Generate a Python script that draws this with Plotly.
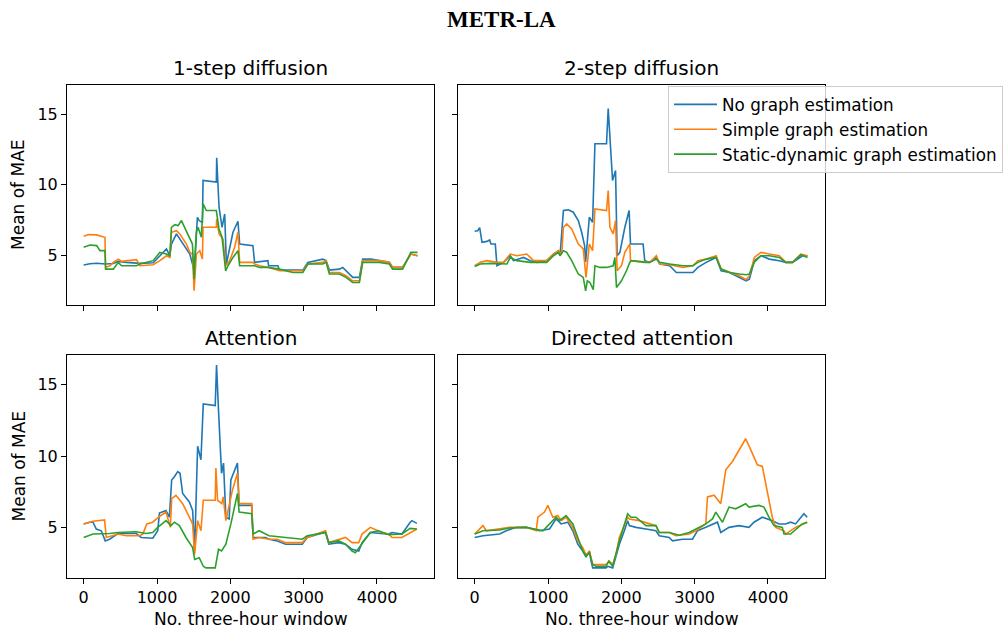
import plotly.graph_objects as go

SERIES = ["No graph estimation", "Simple graph estimation", "Static-dynamic graph estimation"]
COLORS = ["#1f77b4", "#ff7f0e", "#2ca02c"]
PANELS = ["1-step diffusion", "2-step diffusion", "Attention", "Directed attention"]
X_TICKS = [0, 1000, 2000, 3000, 4000]
Y_TICKS = [5, 10, 15]

# ---- 1-step diffusion ----
P1_NO_X = [0,86,177,300,404,472,585,766,948,1084,1129,1175,1197,1265,1333,1447,1492,1506,1551,1574,1619,1628,1809,1814,1846,1887,1923,1946,2036,2104,2127,2308,2331,2512,2522,2648,2671,2989,3057,3261,3306,3351,3487,3533,3669,3760,3805,3918,4032,4168,4213,4349,4462,4553]
P1_NO_Y = [4.29,4.38,4.42,4.36,4.40,4.55,4.48,4.41,4.45,5.19,5.43,4.95,5.78,6.50,6.00,5.07,4.20,3.88,7.68,7.45,7.30,10.30,10.18,11.91,8.40,6.97,7.92,4.36,6.62,7.40,5.78,5.67,4.48,4.60,4.24,4.24,3.93,3.93,4.48,4.71,4.60,3.93,4.00,4.12,3.41,3.41,4.71,4.71,4.60,4.48,4.12,4.12,5.07,4.95]
P1_SI_X = [0,63,177,222,290,299,358,404,472,517,721,766,948,1039,1129,1175,1197,1265,1311,1401,1447,1483,1506,1537,1583,1619,1628,1809,1814,1846,1900,1936,1991,2059,2104,2127,2308,2331,2399,2522,2671,2989,3057,3261,3306,3351,3487,3578,3669,3760,3805,4032,4168,4213,4349,4462,4553]
P1_SI_Y = [6.33,6.45,6.43,6.38,6.26,4.12,4.24,4.48,4.71,4.55,4.67,4.24,4.31,4.60,4.95,4.83,6.62,6.73,6.50,5.78,5.19,5.07,2.46,5.07,5.31,4.71,6.97,6.97,7.57,6.50,6.14,4.24,4.60,5.55,6.62,4.48,4.48,4.36,4.24,4.12,3.88,3.88,4.36,4.48,4.60,3.76,3.76,3.53,3.17,3.17,4.60,4.60,4.48,4.12,4.12,5.07,4.95]
P1_SD_X = [0,86,177,222,290,299,404,472,517,721,766,857,948,1039,1129,1175,1197,1243,1288,1333,1379,1447,1483,1506,1537,1560,1605,1628,1673,1809,1846,1887,1936,1968,2036,2104,2127,2331,2399,2512,2671,2853,2989,3057,3261,3306,3351,3487,3578,3669,3760,3805,4032,4168,4213,4349,4462,4553]
P1_SD_Y = [5.55,5.71,5.67,5.31,5.31,4.00,4.00,4.48,4.24,4.24,4.36,4.48,4.60,5.19,5.07,4.95,6.97,7.16,7.09,7.45,6.97,6.26,5.78,3.29,6.62,6.97,6.26,8.63,8.16,8.16,6.85,6.26,3.88,4.24,4.83,5.31,4.24,4.24,4.12,4.12,4.00,3.76,3.76,4.36,4.36,4.48,3.65,3.65,3.41,3.05,3.05,4.48,4.48,4.36,4.00,4.00,5.19,5.19]

# ---- 2-step diffusion ----
P2_NO_X = [0,41,68,100,168,204,222,281,304,349,394,485,530,666,757,847,983,1074,1142,1164,1210,1277,1345,1413,1459,1499,1513,1563,1608,1640,1798,1821,1853,1880,1921,1943,1980,2048,2106,2125,2297,2319,2387,2478,2523,2659,2750,2976,3044,3157,3293,3361,3475,3610,3701,3746,3814,3905,4018,4154,4245,4335,4471,4539]
P2_NO_Y = [6.69,6.73,6.95,5.90,5.97,6.07,5.78,5.78,4.24,4.36,4.48,4.95,4.60,4.83,4.60,4.48,4.60,5.07,5.31,4.95,8.16,8.21,8.04,7.45,6.62,5.67,4.50,7.68,7.33,12.91,12.91,15.40,12.43,10.30,11.01,4.95,5.19,6.97,8.16,5.78,5.78,4.60,4.48,4.83,4.36,4.24,3.76,3.76,4.12,4.48,4.83,3.88,3.76,3.41,3.17,3.29,4.60,4.95,4.71,4.60,4.48,4.48,4.95,4.95]
P2_SI_X = [0,77,168,304,394,485,575,711,757,802,983,1074,1142,1187,1210,1255,1323,1413,1481,1518,1563,1608,1640,1798,1821,1844,1889,1921,1943,2002,2048,2115,2125,2319,2387,2478,2523,2659,2840,2976,3044,3157,3293,3361,3475,3610,3701,3746,3814,3905,4018,4154,4245,4335,4448,4539]
P2_SI_Y = [4.24,4.48,4.60,4.48,4.48,5.07,4.95,5.07,4.83,4.60,4.60,5.07,5.31,5.07,6.97,7.21,6.85,5.78,5.43,3.41,5.78,5.31,8.28,8.16,9.58,6.97,6.50,7.45,3.88,4.24,5.19,5.78,4.60,4.48,4.48,4.95,4.36,4.31,4.12,4.24,4.60,4.71,4.95,4.00,3.76,3.53,3.24,3.53,4.83,5.19,5.07,4.95,4.48,4.48,5.07,4.95]
P2_SD_X = [0,77,213,349,439,485,575,757,983,1074,1142,1164,1210,1255,1323,1413,1481,1513,1536,1572,1617,1640,1708,1798,1889,1912,1934,2002,2070,2115,2138,2319,2387,2478,2523,2659,2840,2976,3044,3157,3293,3361,3475,3610,3701,3746,3814,3905,4018,4154,4245,4335,4448,4539]
P2_SD_Y = [4.19,4.36,4.41,4.36,4.36,4.83,4.60,4.48,4.48,4.95,5.19,4.95,5.31,5.19,4.60,3.65,3.41,2.46,3.17,3.05,2.54,4.24,4.12,4.12,4.24,4.83,2.70,3.17,3.88,4.48,4.60,4.48,4.48,4.71,4.48,4.36,4.24,4.24,4.48,4.71,4.83,4.00,3.76,3.65,3.60,3.65,4.50,4.95,4.95,4.83,4.48,4.48,5.02,4.83]

# ---- Attention ----
P3_NO_X = [0,82,127,172,240,294,353,467,716,784,942,1010,1033,1123,1169,1200,1237,1282,1314,1350,1441,1486,1513,1554,1599,1631,1794,1812,1839,1880,1907,1939,1984,2007,2097,2120,2292,2310,2482,2528,2641,2754,2981,3049,3207,3298,3343,3479,3570,3660,3751,3796,3909,4159,4204,4340,4453,4476,4544]
P3_NO_Y = [5.24,5.36,5.36,4.88,4.76,4.05,4.17,4.57,4.57,4.29,4.24,4.76,6.00,6.18,5.71,8.32,8.55,8.91,8.79,7.37,6.78,6.18,3.34,10.69,9.74,13.65,13.53,16.37,13.18,8.79,9.50,5.71,5.59,8.32,9.50,6.54,6.54,4.29,4.29,4.17,4.05,3.82,3.82,4.29,4.53,4.64,3.82,3.93,3.82,3.46,3.34,3.93,4.64,4.53,4.64,4.53,5.36,5.47,5.28]
P3_SI_X = [0,127,285,308,467,580,761,806,861,942,1033,1123,1182,1200,1259,1350,1441,1486,1513,1554,1599,1631,1794,1803,1826,1884,1903,1939,2029,2097,2120,2292,2310,2392,2528,2641,2754,2981,3049,3207,3298,3343,3479,3570,3660,3751,3796,3909,4068,4159,4204,4340,4544]
P3_SI_Y = [5.24,5.43,5.52,4.29,4.53,4.41,4.41,4.53,5.24,5.36,5.76,6.07,5.00,7.01,7.25,6.66,5.71,5.24,3.10,5.47,4.76,6.90,6.90,9.15,6.90,6.66,7.13,5.47,7.61,8.79,6.66,6.66,4.17,4.29,4.17,4.17,3.93,3.93,4.29,4.57,4.76,3.93,4.17,4.29,3.93,3.93,4.53,5.00,4.64,4.53,4.29,4.29,4.88]
P3_SD_X = [0,127,353,467,716,852,942,1010,1123,1191,1237,1305,1395,1486,1513,1576,1631,1667,1794,1839,1880,1939,2007,2097,2120,2292,2310,2392,2528,2641,2800,2981,3049,3207,3298,3343,3479,3570,3660,3705,3796,3909,4023,4159,4340,4453,4544]
P3_SD_Y = [4.29,4.53,4.57,4.64,4.69,4.57,4.64,5.00,5.47,5.12,5.36,5.12,4.29,3.58,2.75,2.87,2.27,2.16,2.16,3.46,3.34,3.82,5.24,7.37,6.07,5.95,4.53,4.76,4.41,4.34,4.24,4.17,4.41,4.53,4.64,3.93,4.05,3.82,3.34,3.22,3.82,4.64,4.76,4.48,4.53,4.93,4.88]

# ---- Directed attention ----
P4_NO_X = [0,113,340,431,567,703,884,1020,1111,1179,1270,1338,1406,1474,1519,1565,1587,1610,1791,1814,1882,1927,1973,2041,2086,2109,2199,2336,2472,2517,2653,2698,2834,2970,3038,3152,3311,3356,3469,3605,3741,3809,3923,4059,4150,4240,4308,4376,4490,4535]
P4_NO_Y = [4.29,4.41,4.53,4.76,5.00,5.00,4.76,4.88,5.59,5.24,5.36,4.76,3.82,3.34,2.91,3.34,2.63,2.16,2.16,2.27,2.16,2.99,3.82,4.76,5.47,5.12,5.00,4.88,4.76,4.41,4.29,4.05,4.17,4.17,4.76,5.00,5.36,4.64,5.00,5.12,5.00,5.36,5.71,5.47,5.24,5.24,5.36,5.24,5.95,5.71]
P4_SI_X = [0,68,113,159,340,476,703,839,862,952,998,1066,1134,1179,1247,1338,1406,1474,1519,1565,1610,1791,1837,1882,1927,1973,2086,2109,2245,2381,2472,2517,2653,2744,2925,3016,3152,3175,3265,3356,3424,3515,3605,3696,3764,3855,3923,4013,4059,4104,4218,4240,4376,4535]
P4_SI_Y = [4.53,4.88,5.12,4.76,4.88,5.00,5.00,4.76,5.71,6.07,6.54,5.71,5.83,5.47,5.71,5.00,4.05,3.58,3.06,3.34,2.39,2.39,2.63,2.39,3.10,4.29,5.71,5.59,5.47,5.24,5.12,4.64,4.64,4.41,4.53,4.76,5.24,7.13,7.25,6.66,9.03,9.62,10.45,11.21,10.45,9.38,9.27,6.90,5.71,5.00,4.76,4.53,5.00,5.36]
P4_SD_X = [0,113,340,476,703,930,1111,1156,1247,1338,1406,1474,1519,1565,1610,1655,1791,1828,1882,1927,1973,2086,2131,2199,2336,2472,2517,2653,2789,2925,3016,3152,3243,3288,3379,3469,3560,3696,3741,3877,3945,4013,4082,4195,4218,4308,4467,4535]
P4_SD_Y = [4.53,4.76,4.81,4.95,5.00,4.76,5.71,5.47,5.83,5.24,4.29,3.34,2.99,3.22,2.39,2.27,2.27,2.63,2.27,3.22,4.05,5.95,5.71,5.71,5.12,5.12,4.64,4.64,4.45,4.64,4.88,5.24,5.59,6.07,5.36,6.42,6.30,6.66,6.42,6.54,6.42,5.71,5.12,5.00,4.53,4.53,5.24,5.36]

PANEL_DATA = [
    [(P1_NO_X, P1_NO_Y), (P1_SI_X, P1_SI_Y), (P1_SD_X, P1_SD_Y)],
    [(P2_NO_X, P2_NO_Y), (P2_SI_X, P2_SI_Y), (P2_SD_X, P2_SD_Y)],
    [(P3_NO_X, P3_NO_Y), (P3_SI_X, P3_SI_Y), (P3_SD_X, P3_SD_Y)],
    [(P4_NO_X, P4_NO_Y), (P4_SI_X, P4_SI_Y), (P4_SD_X, P4_SD_Y)],
]

W, H = 1003, 632
FONT = "DejaVu Sans"
# pixel boxes of panels (left, right, top, bottom)
COLS = [(67, 434), (458, 825)]
ROWS = [(85, 305), (355, 578)]

fig = go.Figure()
for p, series in enumerate(PANEL_DATA):
    suf = "" if p == 0 else str(p + 1)
    for s, (xs, ys) in enumerate(series):
        fig.add_trace(go.Scatter(
            x=xs, y=ys, mode="lines", name=SERIES[s],
            line=dict(color=COLORS[s], width=1.6),
            showlegend=(p == 1), legendgroup=SERIES[s],
            xaxis="x" + suf, yaxis="y" + suf))

layout = {}
annotations = []
for p in range(4):
    r, c = divmod(p, 2)
    suf = "" if p == 0 else str(p + 1)
    l, rr = COLS[c]
    t, b = ROWS[r]
    layout["xaxis" + suf] = dict(
        domain=[l / W, rr / W], anchor="y" + suf, range=[-227.5, 4777.5],
        tickvals=X_TICKS, showticklabels=(r == 1), ticks="outside", ticklen=5,
        tickwidth=1, tickcolor="black", showline=True, mirror=True,
        linecolor="black", linewidth=1, showgrid=False, zeroline=False,
        tickfont=dict(family=FONT, size=16, color="black"))
    layout["yaxis" + suf] = dict(
        domain=[1 - b / H, 1 - t / H], anchor="x" + suf, range=[1.45, 17.08],
        tickvals=Y_TICKS, showticklabels=(c == 0), ticks="outside", ticklen=5,
        tickwidth=1, tickcolor="black", showline=True, mirror=True,
        linecolor="black", linewidth=1, showgrid=False, zeroline=False,
        tickfont=dict(family=FONT, size=16, color="black"))
    annotations.append(dict(
        text=PANELS[p], xref="paper", yref="paper", x=(l + rr) / 2 / W,
        y=1 - (t - 17) / H, xanchor="center", yanchor="middle", showarrow=False,
        font=dict(family=FONT, size=20, color="black")))
    if c == 0:
        annotations.append(dict(
            text="Mean of MAE", xref="paper", yref="paper", x=18 / W,
            y=1 - (t + b) / 2 / H, xanchor="center", yanchor="middle",
            textangle=-90, showarrow=False,
            font=dict(family=FONT, size=17, color="black")))
    if r == 1:
        annotations.append(dict(
            text="No. three-hour window", xref="paper", yref="paper",
            x=(l + rr) / 2 / W, y=1 - 619 / H, xanchor="center", yanchor="middle",
            showarrow=False, font=dict(family=FONT, size=17, color="black")))

annotations.append(dict(
    text="<b>METR-LA</b>", xref="paper", yref="paper", x=0.5, y=1 - 20 / H,
    xanchor="center", yanchor="middle", showarrow=False,
    font=dict(family="Liberation Serif", size=23, color="black")))

fig.update_layout(
    **layout,
    annotations=annotations,
    width=W, height=H,
    margin=dict(l=0, r=0, t=0, b=0, autoexpand=False),
    paper_bgcolor="white", plot_bgcolor="white",
    showlegend=True,
    legend=dict(x=668 / W, y=1 - 86 / H, xanchor="left", yanchor="top",
                bgcolor="rgba(255,255,255,0.8)", bordercolor="#cccccc",
                borderwidth=1, tracegroupgap=0, itemwidth=43,
                font=dict(family=FONT, size=16.8, color="black")),
)

fig.write_html("out.html")
